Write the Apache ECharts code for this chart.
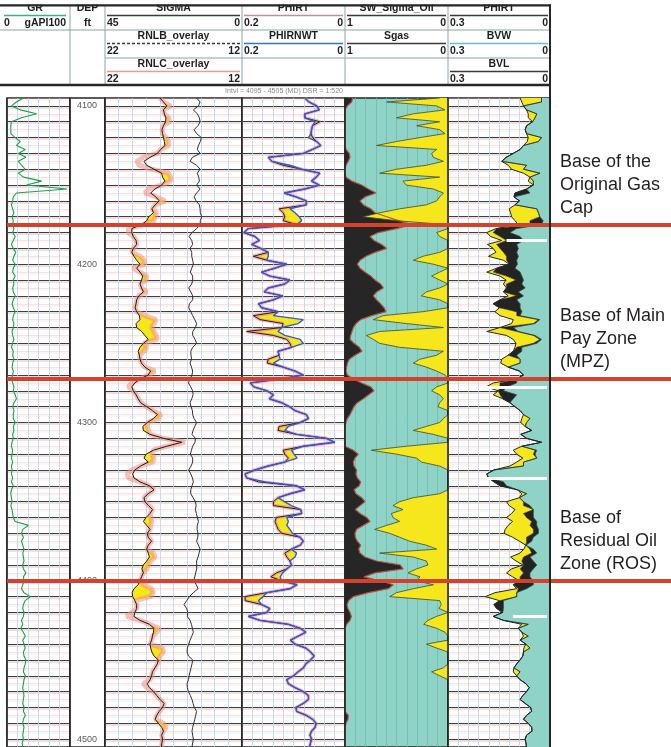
<!DOCTYPE html>
<html>
<head>
<meta charset="utf-8">
<script src="https://cdn.jsdelivr.net/npm/echarts/dist/echarts.min.js"></script>
<style>
  html, body { margin: 0; padding: 0; background: #fff; }
  #chart { width: 671px; height: 747px; }
</style>
</head>
<body>
<div id="chart"></div>
<script>
// Depth index: 4095 - 4505 ft MD, one sample every 2.5 ft
const depthTop = 4095, depthBottom = 4505, depthStep = 2.5;
const depths = [];
for (let d = depthTop; d <= depthBottom + 1e-9; d += depthStep) depths.push(String(d));

// Gamma ray, gAPI
const gr = [26,15,7,21,47,23,7,6,6,6, 13,21,15,29,18,30,18,23,29,18, 26,55,31,95,15,10,9,7,9,11,
  8,10,9,11,9,13,10,7,10,14, 11,9,13,10,9,13,10,11,9,10, 13,10,8,10,13,10,9,11,10,8,
  9,11,9,7,10,9,11,9,8,10, 9,7,9,11,10,13,15,11,9,11, 10,10,13,10,11,9,10,8,7,9,
  8,7,9,7,8,7,9,7,10,7, 6,7,8,6,8,9,10,13,34,25, 23,26,23,25,27,25,26,27,25,26,
  30,26,27,25,23,27,37,29,26,25, 27,26,23,25,22,26,29,25,27,29, 26,27,30,29,27,26,29,27,26,25,
  26,27,26,25,27,26,29,26,25,27, 26,25,26,24,25];

// Capture cross section, c.u.
const sigma = [26.9,25.8,24.7,25.8,25.5,25.0,25.1,25.8,26.3,26.1, 25.8,25.5,25.3,26.7,27.8,30.2,32.2,31.3,28.9,26.4,
  26.1,25.3,26.4,28.6,30.0,28.3,27.2,28.5,29.6,29.1, 30.6,31.3,33.0,36.2,36.2,35.7,34.8,34.6,35.7,36.2,
  35.5,34.6,33.5,34.6,33.5,32.6,33.0,33.5,33.0,32.4, 33.9,34.6,34.8,35.1,34.6,33.7,33.5,34.8,34.6,33.0,
  31.9,30.8,32.4,33.5,34.1,33.7,33.5,33.0,31.9,30.0, 30.8,33.5,35.2,36.2,35.7,34.8,34.1,33.3,31.3,29.4,
  27.8,29.1,31.1,32.6,32.4,30.2,25.8,19.8,24.7,29.1, 31.5,32.2,30.8,33.3,35.2,35.9,35.5,33.5,30.4,28.9,
  30.8,32.2,31.9,30.7,29.4,30.2,31.5,32.4,31.3,30.2, 31.1,30.8,29.7,30.8,31.3,30.8,30.4,31.3,32.4,32.9,
  32.4,33.0,33.5,34.1,35.5,36.1,35.9,35.2,34.6,34.6, 35.2,35.5,33.5,30.4,28.9,29.1,29.4,29.7,30.2,30.0,
  29.6,28.9,27.5,27.8,28.6,29.4,29.7,30.2,31.1,30.4, 29.1,28.0,26.9,25.6,26.1,27.2,28.0,28.5,27.5,26.4,
  25.8,26.4,26.1,26.3,26.5];

// RNLC overlay (22 - 12 scale)
const rnlc = [17.98,17.74,17.20,17.74,17.67,17.35,17.30,17.74,17.84,17.79, 17.54,17.37,17.37,17.93,18.18,19.20,19.68,19.49,18.59,17.37,
  17.20,17.20,17.86,18.83,19.08,18.27,17.62,18.32,18.57,18.23, 18.35,18.42,19.20,20.29,20.29,19.93,19.73,19.68,19.93,20.05,
  19.44,19.15,19.08,19.98,19.44,18.95,19.00,19.44,19.32,18.95, 19.54,19.68,19.73,19.81,19.68,19.08,18.27,18.42,18.59,18.42,
  18.27,18.18,19.20,18.95,19.15,19.49,19.44,19.32,19.08,18.35, 18.83,19.44,20.05,20.29,19.93,19.73,19.56,19.39,18.95,18.52,
  17.93,18.10,18.91,18.91,18.83,18.71,17.74,16.16,17.50,18.47, 18.59,18.42,18.52,19.39,20.05,20.37,20.29,19.44,18.76,18.42,
  18.83,19.15,19.08,18.81,18.52,18.71,18.66,18.59,18.66,18.71, 18.91,18.83,18.59,18.83,18.95,18.47,18.35,18.66,18.83,18.95,
  19.20,19.32,19.44,19.20,18.59,18.47,18.71,19.81,19.68,19.68, 20.05,20.41,19.44,18.76,18.03,18.23,18.52,18.59,18.71,17.79,
  17.74,17.98,18.10,18.18,18.35,18.52,18.59,18.71,19.20,18.95, 18.47,18.22,17.98,17.69,17.79,18.03,18.22,18.32,17.74,17.54,
  17.74,17.86,17.79,17.84,17.88];

// RNLB overlay (22 - 12 scale)
const rnlb = [15.31,15.06,15.18,15.55,15.26,15.11,15.06,15.21,15.50,15.31, 14.96,15.04,15.18,15.26,15.06,15.62,15.79,15.31,15.06,15.26,
  15.16,15.11,15.31,15.06,15.31,15.50,15.35,15.11,15.06,15.04, 14.94,15.04,15.06,15.31,15.65,15.86,15.67,15.60,15.79,15.67,
  15.67,15.60,15.55,15.67,15.77,15.60,15.60,15.67,15.89,15.74, 15.60,15.60,15.84,15.89,15.74,15.60,15.45,15.31,15.40,15.60,
  15.60,15.43,15.31,15.60,15.74,15.72,15.69,15.79,15.69,15.60, 15.65,15.79,15.91,15.74,15.60,15.57,15.67,15.79,15.72,15.62,
  15.60,15.50,15.31,15.45,15.57,15.65,15.40,15.43,15.60,15.69, 15.77,15.60,15.60,15.72,15.89,15.74,15.62,15.55,15.65,15.74,
  15.74,15.57,15.40,15.35,15.40,15.33,15.26,15.18,15.26,15.28, 15.21,15.23,15.31,15.18,15.06,15.13,15.21,15.31,15.31,15.31,
  15.38,15.45,15.52,15.33,15.21,15.55,15.84,16.04,16.23,16.04, 15.96,15.99,15.79,15.69,15.62,15.55,15.67,15.79,15.89,15.99,
  16.01,15.91,15.60,15.65,15.72,15.79,15.86,15.91,16.01,15.99, 15.91,15.77,15.65,15.57,15.48,15.31,15.38,15.45,15.52,15.60,
  15.65,15.60,15.55,15.60,15.65];

// Porosity, v/v (0.2 - 0 scale)
const phirnwt = [.078,.070,.055,.050,.078,.078,.058,.063,.065,.066, .071,.055,.047,.063,.081,.149,.142,.107,.084,.049,
  .056,.065,.050,.078,.118,.095,.075,.075,.107,.097, .089,.084,.094,.188,.196,.175,.166,.181,.164,.149,
  .149,.152,.113,.136,.162,.146,.107,.117,.149,.157, .121,.139,.168,.162,.130,.139,.081,.091,.123,.130,
  .117,.087,.081,.104,.130,.128,.126,.139,.120,.097, .081,.126,.184,.177,.151,.139,.147,.123,.108,.097,
  .075,.071,.087,.110,.117,.094,.036,.020,.081,.104, .099,.093,.117,.149,.175,.194,.191,.155,.094,.078,
  .107,.130,.118,.104,.086,.084,.113,.110,.113,.107, .102,.087,.081,.087,.104,.094,.097,.107,.104,.113,
  .121,.126,.123,.093,.107,.152,.159,.168,.162,.146, .152,.188,.165,.110,.087,.076,.091,.106,.097,.076,
  .067,.060,.067,.076,.081,.091,.100,.113,.110,.097, .081,.071,.071,.081,.095,.094,.075,.063,.056,.058,
  .065,.068,.065,.067,.069];
const phirt = [.078,.070,.055,.050,.078,.078,.049,.063,.065,.066, .063,.055,.047,.063,.081,.149,.142,.120,.084,.049,
  .056,.065,.050,.078,.118,.095,.075,.075,.128,.120, .117,.120,.094,.188,.196,.175,.166,.181,.164,.149,
  .178,.152,.113,.136,.162,.146,.107,.117,.149,.157, .121,.139,.168,.162,.130,.178,.165,.120,.123,.191,
  .139,.113,.107,.104,.130,.128,.149,.151,.120,.097, .081,.126,.184,.177,.151,.139,.147,.123,.108,.097,
  .075,.071,.087,.128,.130,.094,.036,.020,.081,.120, .117,.110,.117,.149,.175,.194,.191,.168,.094,.078,
  .107,.130,.139,.139,.086,.084,.133,.136,.133,.130, .123,.087,.081,.087,.104,.117,.113,.107,.104,.113,
  .133,.144,.123,.093,.107,.152,.194,.194,.162,.146, .152,.188,.165,.110,.087,.076,.091,.106,.097,.076,
  .067,.060,.067,.076,.081,.091,.100,.113,.110,.097, .081,.071,.071,.081,.095,.094,.075,.063,.056,.058,
  .065,.068,.065,.067,.069];

// Saturation track (1 - 0 scale)
const swSigmaOil = [.081,.595,.11,.029,.337,.50,.081,.304,.081,.029, .272,.50,.693,.11,.159,.142,.045,.21,.50,.663,
  .081,.437,.405,.142,.045,.081,.11,.21,.469,.663, .825,.50,.016,0,.11,.081,0,0,0,.081,
  .243,.337,.142,0,.081,.159,.081,0,.081,.21, .259,.081,0,0,.243,.631,.725,.405,.045,.663,
  .793,.725,.663,.469,.045,.11,.272,.337,.21,.11, .029,0,0,.11,.159,.081,.045,.081,.097,0,
  0,.045,.081,.21,.337,.142,0,0,.405,.744, .50,.304,.259,.081,0,0,0,0,0,0,
  .081,.337,.469,.534,.437,.55,.534,.469,.595,.712, .566,.469,.372,.21,.11,.663,.337,.21,.194,.304,
  .388,.272,.304,.142,.337,.50,.566,.081,.065,.087, 0,.11,.194,.236,.11,.029,0,0,.21,.11,
  0,0,0,0,.045,.159,.081,0,0,0, 0,0,0,0,0,0,0,0,0,0,
  0,0,0,0,0];
const sgas = [.926,.935,.977,1,1,1,1,1,1,1, 1,1,1,.99,.958,.951,.968,.99,1,1,
  .99,.935,.838,.773,.699,.806,.854,.822,.75,.709, .595,.482,.353,.498,.676,.757,.718,.644,.595,.709,
  .796,.854,.88,.854,.806,.75,.709,.654,.628,.693, .725,.693,.654,.621,.602,.741,.848,.893,.919,.932,
  .945,.951,.913,.861,.835,.903,.958,.977,.984,.99, .977,.919,.838,.75,.718,.77,.822,.88,.913,.932,
  .951,.977,.99,1,1,1,1,1,1,.919, .871,.903,.919,.913,.887,.893,.88,.848,.861,.913,
  .893,.838,.806,.854,.9,.854,.79,.757,.822,.887, .903,.9,.88,.848,.867,.854,.806,.693,.466,.434,
  .709,.816,.66,.531,.579,.773,.919,.964,.98,.971, .951,.938,.951,.984,1,1,1,1,1,1,
  1,1,1,1,1,1,1,1,1,1, 1,1,1,1,1,1,.968,.971,.99,1,
  1,1,1,1,1];

// Bulk volume track (0.3 - 0 scale)
const phirtVol = [.088,.083,.078,.069,.064,.064,.051,.069,.073,.069, .064,.067,.078,.088,.108,.129,.142,.123,.113,.078,
  .059,.064,.049,.069,.103,.106,.090,.103,.120,.116, .113,.103,.093,.159,.186,.175,.142,.184,.167,.159,
  .181,.137,.120,.157,.186,.147,.129,.137,.128,.137, .123,.147,.167,.149,.162,.147,.108,.113,.147,.186,
  .128,.108,.100,.103,.108,.123,.142,.145,.123,.090, .078,.098,.167,.188,.152,.167,.139,.118,.103,.088,
  .078,.083,.086,.073,.054,.086,.069,.025,.083,.108, .098,.080,.098,.118,.165,.186,.181,.165,.147,.096,
  .083,.090,.128,.120,.103,.113,.128,.110,.123,.132, .135,.110,.090,.071,.077,.088,.116,.100,.080,.113,
  .128,.110,.090,.108,.098,.162,.190,.149,.165,.157, .139,.167,.137,.083,.093,.083,.078,.088,.071,.077,
  .078,.080,.088,.098,.106,.108,.098,.088,.071,.061, .069,.080,.088,.073,.057,.054,.069,.078,.064,.054,
  .053,.069,.073,.071,.069];
const bvl = [.025,.025,.078,.069,.039,.044,.051,.069,.073,.069, .025,.034,.078,.088,.108,.129,.142,.069,.078,.030,
  .059,.049,.049,.069,.103,.106,.090,.103,.039,.034, .030,.059,.059,.157,.167,.147,.128,.157,.147,.137,
  .128,.128,.120,.157,.167,.128,.100,.128,.128,.137, .098,.147,.167,.149,.098,.098,.034,.049,.147,.098,
  .049,.030,.049,.098,.108,.123,.088,.088,.123,.090, .078,.098,.147,.147,.152,.147,.139,.118,.103,.088,
  .078,.059,.069,.073,.054,.086,.069,.025,.083,.044, .049,.039,.078,.078,.165,.186,.181,.165,.147,.096,
  .069,.090,.078,.078,.049,.078,.069,.054,.059,.049, .049,.069,.069,.071,.059,.054,.078,.083,.078,.088,
  .078,.088,.088,.108,.093,.098,.098,.147,.165,.157, .139,.167,.137,.064,.093,.083,.064,.088,.071,.059,
  .078,.080,.088,.098,.106,.088,.098,.088,.071,.061, .069,.080,.088,.073,.057,.054,.069,.078,.064,.054,
  .053,.069,.073,.071,.069];
const bvw = [.025,.025,.078,.069,.039,.044,.051,.069,.073,.069, .025,.034,.078,.088,.108,.129,.142,.069,.078,.030,
  .059,.049,.049,.069,.059,.106,.090,.103,.039,.034, .030,.020,.025,.098,.118,.088,.078,.098,.093,.098,
  .093,.098,.096,.103,.088,.083,.078,.083,.073,.093, .078,.098,.088,.088,.083,.088,.030,.044,.108,.093,
  .044,.025,.039,.083,.083,.098,.088,.088,.123,.090, .078,.098,.098,.128,.137,.098,.108,.118,.103,.088,
  .078,.059,.069,.073,.054,.086,.069,.025,.083,.039, .044,.039,.078,.078,.165,.186,.181,.137,.128,.096,
  .069,.090,.078,.059,.049,.049,.049,.039,.039,.034, .034,.049,.054,.071,.049,.039,.059,.049,.039,.049,
  .059,.059,.049,.049,.069,.098,.098,.137,.137,.137, .139,.167,.137,.064,.093,.083,.064,.088,.071,.059,
  .078,.080,.088,.098,.106,.088,.098,.088,.071,.061, .069,.080,.088,.073,.057,.054,.069,.078,.064,.054,
  .053,.069,.073,.071,.069];

// Missing BVW readings (depth, porosity where the gap starts)
const gapDepths = [4185, 4277.5, 4335, 4422.5];
const gapFrom = [0.128, 0.19, 0.19, 0.109];

// Interpreted zone bases
const zoneTops = [4175, 4272.5, 4400];
const zoneNotes = [
  ['Base of the', 'Original Gas', 'Cap'],
  ['Base of Main', 'Pay Zone', '(MPZ)'],
  ['Base of', 'Residual Oil', 'Zone (ROS)']
];

// ---- derived series for the shaded areas ----
const overlayOnSigma = rnlc.map(r => (r - 12) / (22 - 12) * 45);
const sigmaFillBase = overlayOnSigma;
const sigmaFillWidth = sigma.map((s, i) => Math.max(0, s - overlayOnSigma[i]));
const phiFillBase = phirt.map((p, i) => Math.min(p, phirnwt[i]));
const phiFillWidth = phirt.map((p, i) => Math.abs(p - phirnwt[i]));
const volGas = bvl.map((v, i) => Math.max(0, v - bvw[i]));
const volOil = phirtVol.map((v, i) => Math.max(0, v - bvl[i]));
const idx = d => depths.indexOf(String(d));

// ---- layout ----
const TOP = 98, H = 649;
const tracks = [
  { l: 7,   w: 63 },   // GR
  { l: 70,  w: 35 },   // DEP
  { l: 105, w: 137 },  // SIGMA
  { l: 242, w: 103 },  // PHIRT
  { l: 345, w: 103, bg: '#8fd3c6' }, // saturation
  { l: 448, w: 102 }   // bulk volume
];
const YELLOW = '#f6e61c', TEAL = '#8fd3c6', FONT = 'Liberation Sans, Arial, sans-serif';

const grids = tracks.map(t => ({
  left: t.l, top: TOP, width: t.w, height: H, show: true,
  borderColor: '#262626', borderWidth: 1.5, backgroundColor: t.bg || '#fff'
}));
grids.push({ left: 7, top: TOP, width: 664, height: H, show: false });

function valAxis(gridIndex, min, max, inverse, interval, gridColor) {
  return {
    type: 'value', gridIndex, min, max, inverse, interval, position: 'top',
    axisLine: { show: false }, axisTick: { show: false }, axisLabel: { show: false },
    splitLine: gridColor ? { show: true, lineStyle: { color: gridColor, width: 0.8 } } : { show: false }
  };
}
function depthAxis(gridIndex, withLines, withLabels) {
  return {
    type: 'category', gridIndex, data: depths, inverse: true, boundaryGap: false,
    axisLine: { show: false }, axisTick: { show: false },
    axisLabel: withLabels ? {
      show: true, inside: true, margin: 17, align: 'center',
      interval: (i, v) => Number(v) % 100 === 0,
      color: '#5a5a5a', fontSize: 9, fontFamily: FONT
    } : { show: false },
    splitLine: withLines ? {
      show: true, interval: (i, v) => Number(v) % 5 === 0,
      lineStyle: { color: ['rgba(236,150,140,0.28)', '#33434b'], width: 1.2,
        shadowColor: 'rgba(232,120,110,0.5)', shadowOffsetY: 1.5 }
    } : { show: false }
  };
}

const xAxes = [
  valAxis(0, 0, 100, false, 100 / 6, '#b7d6e6'),
  valAxis(1, 0, 1, false, 1, null),
  valAxis(2, 0, 45, true, 4.5, '#b7d6e6'),
  valAxis(2, 12, 22, true, 1, null),
  valAxis(3, 0, 0.2, true, 0.02, '#b7d6e6'),
  valAxis(4, 0, 1, true, 0.1, '#6cbdb2'),
  valAxis(5, 0, 0.3, true, 0.03, '#b7d6e6'),
  valAxis(6, 0, 1, false, 1, null)
];
const yAxes = [
  depthAxis(0, true, false),
  depthAxis(1, false, true),
  depthAxis(2, true, false),
  depthAxis(3, true, false),
  depthAxis(4, false, false),
  depthAxis(5, true, false),
  depthAxis(6, false, false)
];

const noSym = { type: 'line', symbol: 'none', showSymbol: false, silent: true };
const hidden = { opacity: 0, width: 0 };
const series = [
  // GR
  Object.assign({}, noSym, { name: 'GR', xAxisIndex: 0, yAxisIndex: 0, data: gr,
    lineStyle: { color: '#17a34a', width: 1.1 } }),
  // SIGMA track
  Object.assign({}, noSym, { name: 'RNLC_overlay', xAxisIndex: 3, yAxisIndex: 2, data: rnlc,
    lineStyle: { color: 'rgba(240,140,125,0.55)', width: 5 } }),
  Object.assign({}, noSym, { name: 'sigmaFillBase', xAxisIndex: 2, yAxisIndex: 2, data: sigmaFillBase,
    stack: 'sigmaFill', lineStyle: hidden }),
  Object.assign({}, noSym, { name: 'sigmaFill', xAxisIndex: 2, yAxisIndex: 2, data: sigmaFillWidth,
    stack: 'sigmaFill', lineStyle: hidden, areaStyle: { color: YELLOW, opacity: 1 } }),
  Object.assign({}, noSym, { name: 'SIGMA', xAxisIndex: 2, yAxisIndex: 2, data: sigma,
    lineStyle: { color: '#1b1b1b', width: 1 } }),
  Object.assign({}, noSym, { name: 'RNLB_overlay', xAxisIndex: 3, yAxisIndex: 2, data: rnlb,
    lineStyle: { color: '#25323a', width: 1 } }),
  // PHIRT track
  Object.assign({}, noSym, { name: 'PHIRT halo', xAxisIndex: 4, yAxisIndex: 3, data: phirt,
    lineStyle: { color: 'rgba(232,125,150,0.55)', width: 3.5 } }),
  Object.assign({}, noSym, { name: 'phiFillBase', xAxisIndex: 4, yAxisIndex: 3, data: phiFillBase,
    stack: 'phiFill', lineStyle: hidden }),
  Object.assign({}, noSym, { name: 'phiFill', xAxisIndex: 4, yAxisIndex: 3, data: phiFillWidth,
    stack: 'phiFill', lineStyle: hidden, areaStyle: { color: YELLOW, opacity: 1 } }),
  Object.assign({}, noSym, { name: 'PHIRT', xAxisIndex: 4, yAxisIndex: 3, data: phirt,
    lineStyle: { color: '#222', width: 1 } }),
  Object.assign({}, noSym, { name: 'PHIRNWT', xAxisIndex: 4, yAxisIndex: 3, data: phirnwt,
    lineStyle: { color: '#2d5bd8', width: 1.4 } }),
  // Saturation track
  Object.assign({}, noSym, { name: 'Sgas', xAxisIndex: 5, yAxisIndex: 4, data: sgas,
    lineStyle: { color: '#b4533f', width: 1.2 }, areaStyle: { color: '#262626', opacity: 1, origin: 'end' } }),
  Object.assign({}, noSym, { name: 'SW_Sigma_Oil', xAxisIndex: 5, yAxisIndex: 4, data: swSigmaOil,
    lineStyle: { color: '#3b4a2c', width: 0.8 }, areaStyle: { color: YELLOW, opacity: 1, origin: 'start' } }),
  // Bulk volume track
  Object.assign({}, noSym, { name: 'BVW', xAxisIndex: 6, yAxisIndex: 5, data: bvw, stack: 'vol',
    lineStyle: { color: '#2b4b47', width: 0.8 }, areaStyle: { color: TEAL, opacity: 1, origin: 'start' } }),
  Object.assign({}, noSym, { name: 'gas volume', xAxisIndex: 6, yAxisIndex: 5, data: volGas, stack: 'vol',
    lineStyle: { color: '#1e1e1e', width: 0.6 }, areaStyle: { color: '#232323', opacity: 1 } }),
  Object.assign({}, noSym, { name: 'oil volume', xAxisIndex: 6, yAxisIndex: 5, data: volOil, stack: 'vol',
    lineStyle: { color: '#1d2a2a', width: 1 }, areaStyle: { color: YELLOW, opacity: 1 } }),
  Object.assign({}, noSym, { name: 'BVW gaps', xAxisIndex: 6, yAxisIndex: 5, data: [],
    markLine: { silent: true, symbol: 'none', animation: false, z: 20,
      label: { show: false }, lineStyle: { color: '#ffffff', width: 3, type: 'solid' },
      data: gapDepths.map((d, i) => [{ coord: [gapFrom[i], idx(d)] }, { coord: [0.009, idx(d)] }]) } }),
  // Zone bases across all tracks
  Object.assign({}, noSym, { name: 'zones', xAxisIndex: 7, yAxisIndex: 6, data: [], z: 30,
    markLine: { silent: true, symbol: 'none', animation: false, z: 40,
      label: { show: false }, lineStyle: { color: '#d4422e', width: 4, type: 'solid', opacity: 1 },
      data: zoneTops.map(d => ({ yAxis: idx(d) })) } })
];

// ---- header ----
const graphic = [];
const hdrLine = (x1, y1, x2, y2, color, width, dash, z) => graphic.push({
  type: 'line', silent: true, z: z || 50,
  shape: { x1, y1, x2, y2 },
  style: { stroke: color, lineWidth: width, lineDash: dash || null }
});
const hdrText = (text, x, y, align, opts) => graphic.push(Object.assign({
  type: 'text', silent: true, z: 50, x, y,
  style: { text, fill: '#1e1e1e', font: 'bold 10.5px ' + FONT, textAlign: align, textVerticalAlign: 'middle' }
}, opts || {}));

const cols = [[2, 68], [70, 105], [105, 242], [242, 345], [345, 448], [448, 550]];
const curveHeads = [
  { c: 0, r: 0, name: 'GR', lo: '0', hi: 'gAPI100', color: '#38b38e' },
  { c: 1, r: 0, name: 'DEP', unit: 'ft' },
  { c: 2, r: 0, name: 'SIGMA', lo: '45', hi: '0', color: '#3a3a3a' },
  { c: 2, r: 1, name: 'RNLB_overlay', lo: '22', hi: '12', color: '#3a3a3a', dash: [3, 2] },
  { c: 2, r: 2, name: 'RNLC_overlay', lo: '22', hi: '12', color: '#ee9a84' },
  { c: 3, r: 0, name: 'PHIRT', lo: '0.2', hi: '0', color: '#c98a9a' },
  { c: 3, r: 1, name: 'PHIRNWT', lo: '0.2', hi: '0', color: '#2f74d0' },
  { c: 4, r: 0, name: 'SW_Sigma_Oil', lo: '1', hi: '0', color: '#3a3a3a' },
  { c: 4, r: 1, name: 'Sgas', lo: '1', hi: '0', color: '#3a3a3a' },
  { c: 5, r: 0, name: 'PHIRT', lo: '0.3', hi: '0', color: '#3a3a3a' },
  { c: 5, r: 1, name: 'BVW', lo: '0.3', hi: '0', color: '#5cc0ea' },
  { c: 5, r: 2, name: 'BVL', lo: '0.3', hi: '0', color: '#3a3a3a' }
];
const rowY = [8, 36, 64];
curveHeads.forEach(h => {
  const [a, b] = cols[h.c];
  const y = rowY[h.r];
  hdrText(h.name, (a + b) / 2, y, 'center');
  if (h.unit) { hdrText(h.unit, (a + b) / 2, y + 15, 'center'); return; }
  hdrLine(a + 2, y + 7.5, b - 2, y + 7.5, h.color, 1.4, h.dash);
  hdrText(h.lo, a + 2, y + 15.5, 'left');
  hdrText(h.hi, b - 2, y + 15.5, 'right');
});
// cell borders
hdrLine(0, 30, 550, 30, '#8da3ae', 1);
hdrLine(105, 58, 550, 58, '#8da3ae', 1);
[70, 105, 242, 345, 448].forEach(x => hdrLine(x, 5, x, 85, '#8da3ae', 1));
// frame
graphic.push({ type: 'rect', silent: true, z: 51, shape: { x: 0, y: 0, width: 560, height: 4.4 }, style: { fill: '#fff' } });
hdrLine(0, 5.4, 551, 5.4, '#262626', 2.2, null, 52);
hdrLine(0, 85, 551, 85, '#262626', 2.4, null, 52);
hdrLine(550, 4.5, 550, 747, '#262626', 2, null, 52);
graphic.push({ type: 'text', silent: true, z: 50, x: 343, y: 91,
  style: { text: 'Intvl = 4095 - 4505 (MD) DSR = 1:520', fill: '#8a8a8a', font: '7px ' + FONT,
    textAlign: 'right', textVerticalAlign: 'middle' } });
// track separators on top of the fills
[7, 70, 105, 242, 345, 448].forEach(x => hdrLine(x, TOP, x, TOP + H, '#262626', 1.6, null, 20));

// zone notes to the right of the log
const noteY = [162, 316, 518];
zoneNotes.forEach((lines, k) => lines.forEach((t, j) => graphic.push({
  type: 'text', silent: true, z: 50, x: 560, y: noteY[k] + j * 23,
  style: { text: t, fill: '#231f20', font: '18px ' + FONT, textAlign: 'left', textVerticalAlign: 'middle' }
})));

const chart = echarts.init(document.getElementById('chart'), null, { renderer: 'canvas' });
chart.setOption({
  animation: false,
  backgroundColor: '#ffffff',
  grid: grids,
  xAxis: xAxes,
  yAxis: yAxes,
  series,
  graphic
});
</script>
</body>
</html>
